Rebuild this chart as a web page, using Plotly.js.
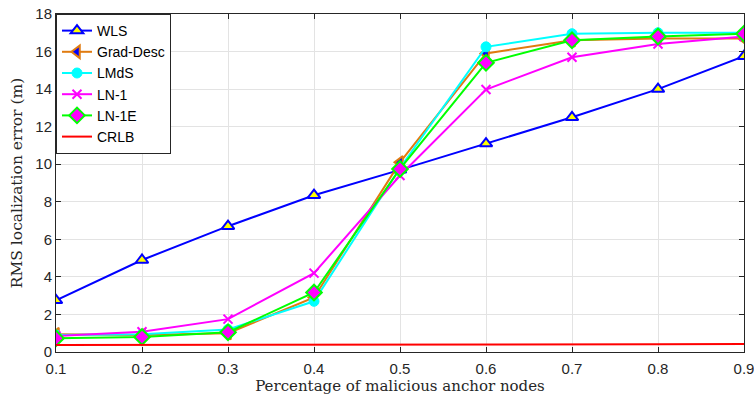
<!DOCTYPE html>
<html><head><meta charset="utf-8">
<script src="https://cdn.plot.ly/plotly-3.0.1.min.js"></script>
<style>body{margin:0}#c{width:754px;height:397px}</style>
</head><body><div id="c"></div>
<script>
const x = [0.1,0.2,0.3,0.4,0.5,0.6,0.7,0.8,0.9];
const xTickLabels = ['0.1','0.2','0.3','0.4','0.5','0.6','0.7','0.8','0.9'];
const wls = [2.75,4.9,6.7,8.35,9.7,11.1,12.5,14.0,15.75];
const grad = [0.95,0.9,1.0,2.9,10.1,15.9,16.6,16.7,16.7];
const lmds = [0.9,0.95,1.2,2.7,9.8,16.25,16.95,17.0,17.0];
const ln1 = [0.85,1.08,1.75,4.2,9.4,13.98,15.7,16.4,16.8];
const ln1e = [0.73,0.8,1.05,3.17,9.75,15.4,16.6,16.8,16.95];
const crlb = [0.37,0.37,0.37,0.37,0.37,0.38,0.39,0.41,0.43];

const traces = [
 {x:x,y:wls,name:'WLS',mode:'lines+markers',line:{color:'#0000ff',width:2},
  marker:{symbol:'triangle-up',size:11,color:'#ffff00',line:{color:'#0000ff',width:2}}},
 {x:x,y:grad,name:'Grad-Desc',mode:'lines+markers',line:{color:'#e07b10',width:2},
  marker:{symbol:'triangle-left',size:11,color:'#0000ff',line:{color:'#e07b10',width:2}}},
 {x:x,y:lmds,name:'LMdS',mode:'lines+markers',line:{color:'#00ffff',width:2},
  marker:{symbol:'circle',size:10,color:'#00ffff',line:{color:'#00ffff',width:1}}},
 {x:x,y:ln1,name:'LN-1',mode:'lines+markers',line:{color:'#ff00ff',width:2},
  marker:{symbol:'x-thin',size:9,color:'#ff00ff',line:{color:'#ff00ff',width:2}}},
 {x:x,y:ln1e,name:'LN-1E',mode:'lines+markers',line:{color:'#00ff00',width:2},
  marker:{symbol:'diamond',size:12,color:'#ff00ff',line:{color:'#00ff00',width:2}}},
 {x:x,y:crlb,name:'CRLB',mode:'lines',line:{color:'#ff0000',width:2}}
];

const layout = {
 width:754,height:397,
 margin:{l:56,r:10,t:14,b:45},
 paper_bgcolor:'#ffffff',plot_bgcolor:'#ffffff',
 font:{family:'Liberation Sans, Arial, sans-serif',size:15,color:'#262626'},
 showlegend:true,
 legend:{x:0,y:1,xanchor:'left',yanchor:'top',bgcolor:'#ffffff',bordercolor:'#262626',borderwidth:1,
   font:{family:'Liberation Sans, Arial, sans-serif',size:14,color:'#000'},tracegroupgap:0,itemwidth:30},
 xaxis:{range:[0.1,0.9],tickvals:x,ticktext:xTickLabels,ticklabeloverflow:'allow',ticklabelstandoff:3,
   showgrid:true,gridcolor:'#e3e3e3',gridwidth:1,zeroline:false,
   showline:true,linecolor:'#262626',linewidth:1,mirror:'ticks',ticks:'inside',ticklen:5,tickcolor:'#262626',
   title:{text:'Percentage of malicious anchor nodes',font:{family:'DejaVu Serif, Liberation Serif, serif',size:15,color:'#262626'},standoff:3}},
 yaxis:{range:[0,18],dtick:2,showgrid:true,gridcolor:'#e3e3e3',gridwidth:1,zeroline:false,
   showline:true,linecolor:'#262626',linewidth:1,mirror:'ticks',ticks:'inside',ticklen:5,tickcolor:'#262626',
   title:{text:'RMS localization error (m)',font:{family:'DejaVu Serif, Liberation Serif, serif',size:15.5,color:'#262626'},standoff:8}}
};
Plotly.newPlot('c',traces,layout,{displayModeBar:false,staticPlot:true});
</script></body></html>
